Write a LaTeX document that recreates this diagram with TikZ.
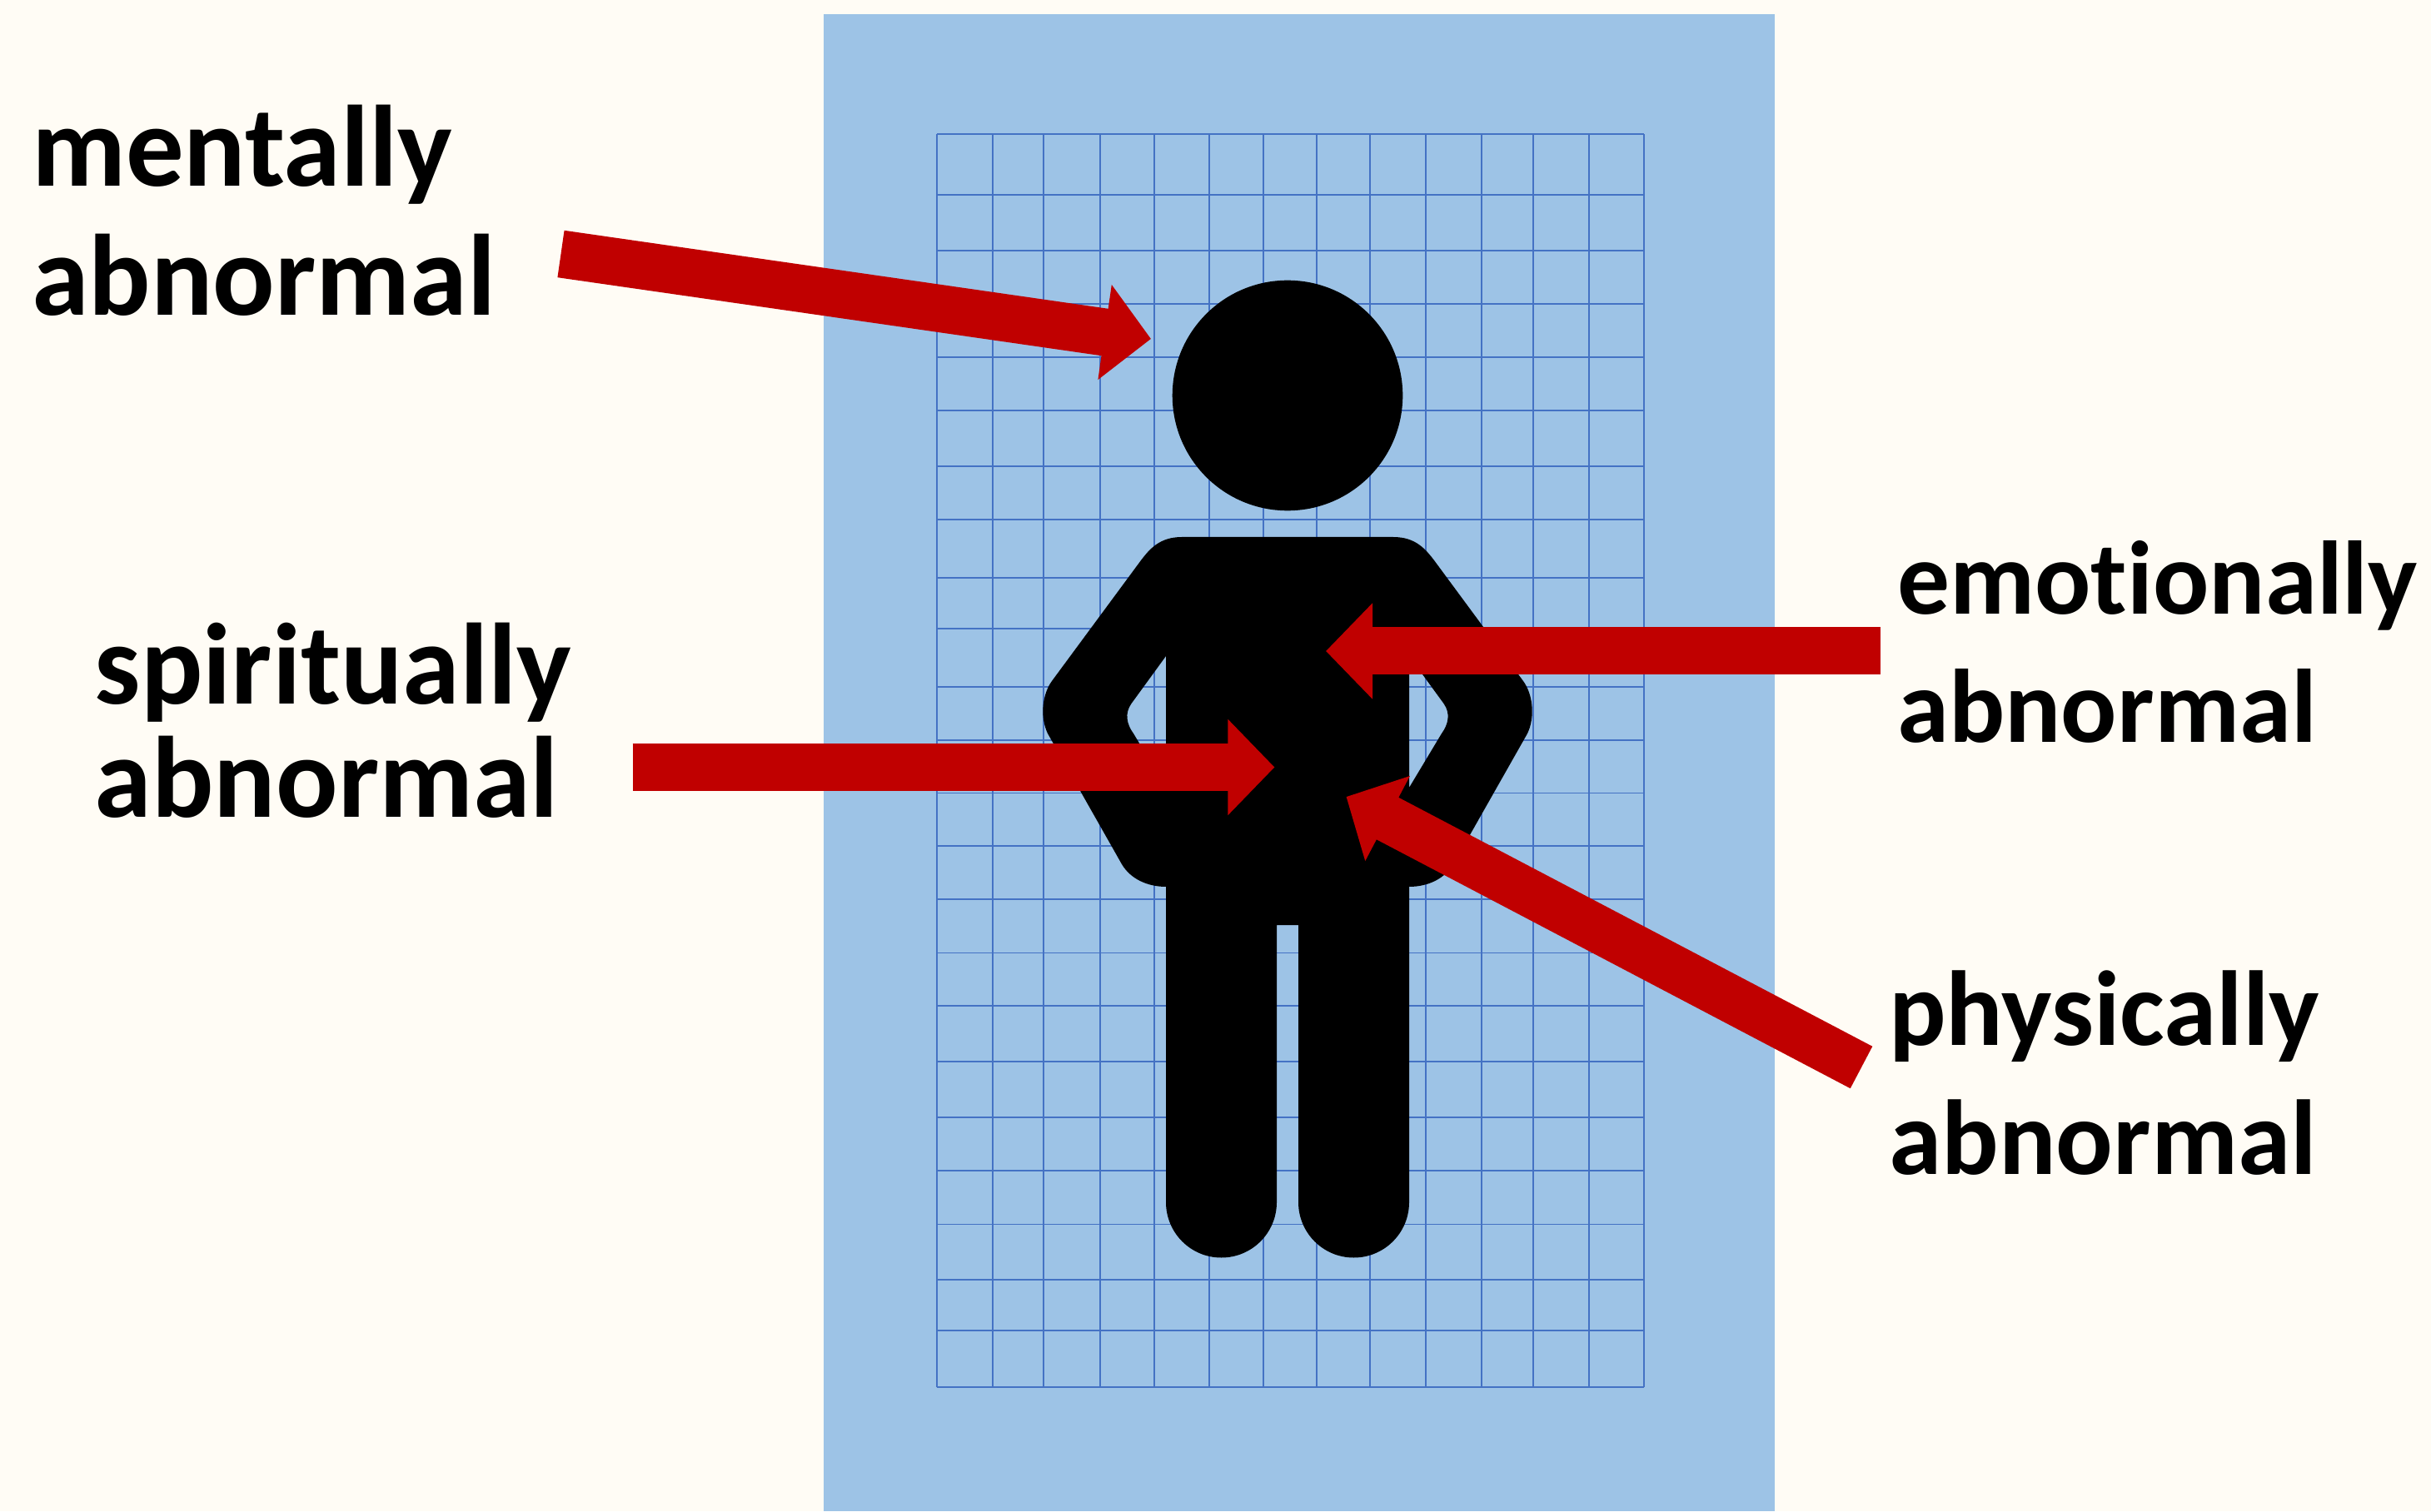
\documentclass[tikz,border=0pt]{standalone}
\usepackage{fontspec}
\setmainfont[Ligatures=NoCommon]{Carlito}
\usepackage{xcolor}
\usetikzlibrary{arrows.meta, shapes.geometric}
\definecolor{paper}{HTML}{FFFCF5}
\definecolor{panel}{HTML}{9DC3E6}
\definecolor{gridblue}{HTML}{4472C4}
\definecolor{arrred}{HTML}{C00000}
\tikzset{
  %% Label beside the figure
  lbl/.style={
    anchor=base west, align=left, inner sep=0pt,
    font=\fontsize{39.5}{44.2}\selectfont\bfseries
  },
  %% Block arrow
  arr/.style={-{Triangle[length=0.56cm,width=1.12cm]},
              draw=arrred, line width=0.57cm},
  gridln/.style={draw=gridblue, line width=0.014cm},
}
\begin{document}
\begin{tikzpicture}
  \useasboundingbox (0,0) rectangle (29.19,18.15);
  \fill[paper] (0,0) rectangle (29.19,18.15);
  \fill[panel] (9.885,0) rectangle (21.31,17.98);

  %% Grid
  \foreach \gx in {11.25,11.92,12.53,13.21,13.86,14.52,15.17,15.81,16.45,17.12,17.79,18.41,19.08,19.74}
    \draw[gridln] (\gx,1.49) -- (\gx,16.54);
  \foreach \gy in {16.54,15.81,15.14,14.50,13.86,13.22,12.55,11.91,11.21,10.60,9.90,9.26,8.625,7.99,7.35,6.705,6.07,5.40,4.73,4.09,3.445,2.78,2.17,1.49}
    \draw[gridln] (11.25,\gy) -- (19.74,\gy);

  %% Figure
  \node[circle, fill=black, minimum size=2.766cm, inner sep=0pt] (head) at (15.46,13.40) {};
  \fill[black, even odd rule]
    (14.19,11.70) -- (16.73,11.70)
    .. controls (17.00,11.70) and (17.12,11.55) .. (17.22,11.42)
    -- (18.29,9.97)
    .. controls (18.40,9.82) and (18.44,9.55) .. (18.34,9.34)
    -- (17.45,7.77)
    .. controls (17.35,7.60) and (17.15,7.50) .. (16.92,7.50)
    -- (16.92,3.71) arc[start angle=0, end angle=-180, radius=0.665]
    -- (15.59,7.04) -- (15.33,7.04)
    -- (15.33,3.71) arc[start angle=0, end angle=-180, radius=0.665]
    -- (14.00,7.50)
    .. controls (13.77,7.50) and (13.57,7.60) .. (13.47,7.77)
    -- (12.58,9.34)
    .. controls (12.48,9.55) and (12.52,9.82) .. (12.63,9.97)
    -- (13.70,11.42)
    .. controls (13.80,11.55) and (13.92,11.70) .. (14.19,11.70) -- cycle
    (14.00,10.27) -- (13.585,9.70)
    .. controls (13.50,9.58) and (13.53,9.45) .. (13.61,9.34)
    -- (14.00,8.69) -- cycle
    (16.92,10.27) -- (17.335,9.70)
    .. controls (17.42,9.58) and (17.39,9.45) .. (17.31,9.34)
    -- (16.92,8.69) -- cycle;

  %% Labels
  \node[lbl] (mental) at (0.375,14.365) {mentally\\abnormal};
  \node[lbl, font=\fontsize{39.5}{38.7}\selectfont\bfseries] (spirit) at (1.13,8.332) {spiritually\\abnormal};
  \node[lbl, font=\fontsize{35.7}{43.8}\selectfont\bfseries] (emotion) at (22.775,9.238) {emotionally\\abnormal};
  \node[lbl, font=\fontsize{36.4}{44}\selectfont\bfseries] (physic) at (22.675,4.048) {physically\\abnormal};

  %% Arrows
  \coordinate (mentaltail) at (6.735,15.10);
  \coordinate (mentaltip) at (13.82,14.08);
  \coordinate (spirittail) at (7.595,8.935);
  \coordinate (spirittip) at (15.304,8.935);
  \coordinate (emotiontail) at (22.58,10.33);
  \coordinate (emotiontip) at (15.92,10.33);
  \coordinate (physictail) at (22.35,5.33);
  \coordinate (physictip) at (16.165,8.58);
  \draw[arr] (mentaltail) -- (mentaltip);
  \draw[arr] (spirittail) -- (spirittip);
  \draw[arr] (emotiontail) -- (emotiontip);
  \draw[arr] (physictail) -- (physictip);
\end{tikzpicture}
\end{document}
